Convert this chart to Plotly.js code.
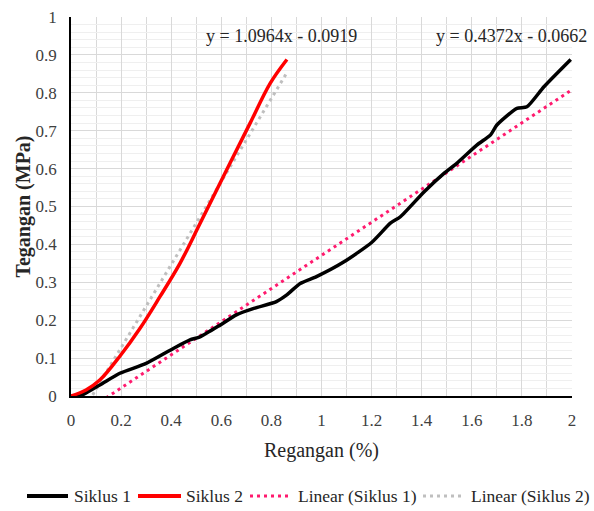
<!DOCTYPE html>
<html>
<head>
<meta charset="utf-8">
<script src="https://cdn.plot.ly/plotly-3.0.1.min.js"></script>
</head>
<body style="margin:0;background:#fff">
<div id="chart" style="width:594px;height:511px"></div>
<script>
// Stress–strain readings, cycle 1 (strain %, stress MPa)
const siklus1X = [0, 0.035, 0.115, 0.195, 0.30, 0.41, 0.475, 0.515, 0.595, 0.66, 0.73, 0.82, 0.86, 0.915, 0.98, 1.09, 1.2, 1.275, 1.315, 1.41, 1.49, 1.54, 1.62, 1.675, 1.70, 1.78, 1.82, 1.888, 1.995];
const siklus1Y = [0, 0, 0.029, 0.06, 0.086, 0.126, 0.148, 0.156, 0.187, 0.214, 0.231, 0.249, 0.266, 0.297, 0.315, 0.354, 0.405, 0.456, 0.473, 0.539, 0.588, 0.614, 0.662, 0.689, 0.715, 0.759, 0.763, 0.816, 0.888];

// Cycle 2
const siklus2X = [0, 0.06, 0.115, 0.195, 0.275, 0.355, 0.435, 0.515, 0.635, 0.715, 0.795, 0.862];
const siklus2Y = [0, 0.016, 0.042, 0.105, 0.178, 0.262, 0.35, 0.455, 0.615, 0.72, 0.825, 0.888];

// Linear trendline coefficients (slope, intercept)
const trend1 = { slope: 0.4372, intercept: -0.0662 };
const trend2 = { slope: 1.0964, intercept: -0.0919 };

const seriesNames = ['Siklus 1', 'Siklus 2', 'Linear (Siklus 1)', 'Linear (Siklus 2)'];
const equationLabels = ['y = 1.0964x - 0.0919', 'y = 0.4372x - 0.0662'];
const xTicks = [0, 0.2, 0.4, 0.6, 0.8, 1, 1.2, 1.4, 1.6, 1.8, 2];
const yTicks = [0, 0.1, 0.2, 0.3, 0.4, 0.5, 0.6, 0.7, 0.8, 0.9, 1];

function trendLine(xs, t) {
  const x0 = Math.min(...xs), x1 = Math.max(...xs);
  return { x: [x0, x1], y: [t.slope * x0 + t.intercept, t.slope * x1 + t.intercept] };
}
const t1 = trendLine(siklus1X, trend1);
const t2 = trendLine(siklus2X, trend2);

const colors = ['#000000', '#FF0000', '#FF1A6E', '#BFBFBF'];
const SERIF = 'Liberation Serif';

const traces = [
  { x: t2.x, y: t2.y, mode: 'lines', name: seriesNames[3], line: { color: colors[3], width: 3, dash: '3px,4px' } },
  { x: t1.x, y: t1.y, mode: 'lines', name: seriesNames[2], line: { color: colors[2], width: 3, dash: '3px,4px' } },
  { x: siklus1X, y: siklus1Y, mode: 'lines', name: seriesNames[0], line: { color: colors[0], width: 3.5, shape: 'spline', smoothing: 0.6 } },
  { x: siklus2X, y: siklus2Y, mode: 'lines', name: seriesNames[1], line: { color: colors[1], width: 3.5, shape: 'spline', smoothing: 1 } }
];

// plot area in pixels: left 71, right 572, top 17, bottom 396
const L = 71, R = 572, T = 17, B = 396;
const px = v => (v - L) / (R - L);
const py = v => (B - v) / (B - T);

const shapes = [];
const annotations = [];

// Legend row drawn beneath the chart
const legendY = py(496);
const legendItems = [
  { name: seriesNames[0], color: colors[0], dash: 'solid', w: 4, x0: 27, x1: 68, tx: 72 },
  { name: seriesNames[1], color: colors[1], dash: 'solid', w: 4, x0: 138, x1: 181, tx: 184 },
  { name: seriesNames[2], color: colors[2], dash: '3px,4px', w: 3, x0: 250, x1: 291, tx: 296 },
  { name: seriesNames[3], color: colors[3], dash: '3px,4px', w: 3, x0: 423, x1: 465, tx: 469 }
];
legendItems.forEach(it => {
  shapes.push({ type: 'line', xref: 'paper', yref: 'paper', x0: px(it.x0), x1: px(it.x1), y0: legendY, y1: legendY,
    line: { color: it.color, width: it.w, dash: it.dash } });
  annotations.push({ xref: 'paper', yref: 'paper', x: px(it.tx), y: legendY, xanchor: 'left', yanchor: 'middle',
    text: it.name, showarrow: false, font: { family: SERIF, size: 17.5, color: '#262626' } });
});

// trendline equations
annotations.push({ xref: 'paper', yref: 'paper', x: px(281), y: py(36), xanchor: 'center', yanchor: 'middle',
  text: equationLabels[0], showarrow: false, font: { family: SERIF, size: 18, color: '#262626' } });
annotations.push({ xref: 'paper', yref: 'paper', x: px(511), y: py(36), xanchor: 'center', yanchor: 'middle',
  text: equationLabels[1], showarrow: false, font: { family: SERIF, size: 18, color: '#262626' } });

const layout = {
  width: 594, height: 511,
  margin: { l: L, r: 594 - R, t: T, b: 511 - B, pad: 0 },
  paper_bgcolor: '#ffffff', plot_bgcolor: '#ffffff',
  showlegend: false,
  font: { family: SERIF, size: 16, color: '#404040' },
  xaxis: {
    range: [0, 2], tickvals: xTicks, ticktext: xTicks.map(String),
    showgrid: true, gridcolor: '#D9D9D9', gridwidth: 1,
    minor: { dtick: 0.1, showgrid: true, gridcolor: '#D9D9D9', gridwidth: 1 },
    showline: true, linecolor: '#000000', linewidth: 1.5, zeroline: false,
    ticks: '', ticklabelstandoff: 8,
    tickfont: { family: SERIF, size: 17, color: '#404040' },
    title: { text: 'Regangan (%)', standoff: 14, font: { family: SERIF, size: 20, color: '#262626' } },
    automargin: false
  },
  yaxis: {
    range: [0, 1], tickvals: yTicks, ticktext: yTicks.map(String),
    showgrid: true, gridcolor: '#D9D9D9', gridwidth: 1,
    minor: { dtick: 0.02, showgrid: true, gridcolor: '#EFEFEF', gridwidth: 1 },
    showline: true, linecolor: '#000000', linewidth: 1.5, zeroline: false,
    ticks: '', ticklabelstandoff: 9,
    tickfont: { family: SERIF, size: 17, color: '#404040' },
    title: { text: 'Tegangan (MPa)', standoff: 0, font: { family: SERIF, size: 20, color: '#262626', weight: 'bold' } },
    automargin: false
  },
  shapes: shapes,
  annotations: annotations
};

Plotly.newPlot('chart', traces, layout, { displayModeBar: false });
</script>
</body>
</html>
